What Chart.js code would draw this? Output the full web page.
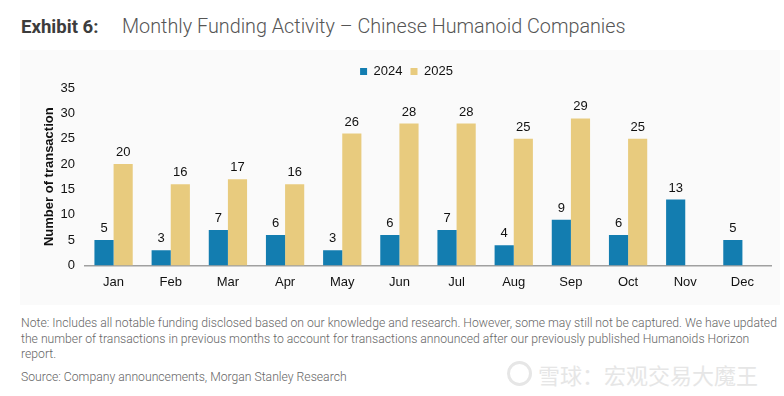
<!DOCTYPE html>
<html>
<head>
<meta charset="utf-8">
<script src="https://cdn.jsdelivr.net/npm/chart.js@4.4.1/dist/chart.umd.min.js"></script>
<style>
  body { margin: 0; width: 784px; height: 396px; background: #fff; font-family: Roboto, "Liberation Sans", sans-serif; position: relative; overflow: hidden; }
  .title { position: absolute; left: 21px; top: 16px; font-size: 18.6px; color: #444; white-space: nowrap; }
  .title b { font-weight: 700; color: #3c3c3c; }
  .title span { position: absolute; left: 101px; font-weight: 300; color: #555; font-size: 19.8px; top: -1px; }
  .panel { position: absolute; left: 20px; top: 50px; width: 760px; height: 255px; background: #fafafa; }
  .note { position: absolute; left: 21px; top: 316px; width: 762px; font-size: 12.2px; line-height: 15.6px; font-weight: 300; color: #666; }
  .source { position: absolute; left: 21px; top: 370px; font-size: 12.2px; font-weight: 300; color: #666; }
  .logo { position: absolute; left: 507px; top: 361px; width: 19px; height: 19px; border: 3px solid #e6e6e6; border-radius: 50%; }
  .wm { position: absolute; left: 538px; top: 358px; font-size: 22px; color: #e6e6e6; font-family: "Noto Sans CJK SC", sans-serif; font-weight: 400; white-space: nowrap; }
</style>
</head>
<body>
<div class="title"><b>Exhibit 6:</b><span>Monthly Funding Activity – Chinese Humanoid Companies</span></div>
<div class="panel"><canvas id="chart" width="760" height="255"></canvas></div>
<div class="note">Note: Includes all notable funding disclosed based on our knowledge and research. However, some may still not be captured. We have updated the number of transactions in previous months to account for transactions announced after our previously published Humanoids Horizon report.</div>
<div class="source">Source: Company announcements, Morgan Stanley Research</div>
<div class="logo"></div>
<div class="wm">雪球：宏观交易大魔王</div>
<script>
// dữ liệu
const months = ['Jan', 'Feb', 'Mar', 'Apr', 'May', 'Jun', 'Jul', 'Aug', 'Sep', 'Oct', 'Nov', 'Dec'];
const deals2024 = [5, 3, 7, 6, 3, 6, 7, 4, 9, 6, 13, 5];
const deals2025 = [20, 16, 17, 16, 26, 28, 28, 25, 29, 25, null, null];
const yTicks = [0, 5, 10, 15, 20, 25, 30, 35];

// ghi số lên đầu cột
const barLabels = {
  id: 'barLabels',
  afterDatasetsDraw(chart) {
    const ctx = chart.ctx;
    ctx.save();
    ctx.font = '13px "Liberation Sans", Arial, sans-serif';
    ctx.fillStyle = '#111';
    ctx.textAlign = 'center';
    ctx.textBaseline = 'bottom';
    chart.data.datasets.forEach((ds, i) => {
      chart.getDatasetMeta(i).data.forEach((bar, j) => {
        if (ds.data[j] == null) return;
        ctx.fillText(ds.data[j], bar.x, bar.y - 5);
      });
    });
    ctx.restore();
  }
};

const ctx = document.getElementById('chart').getContext('2d');
new Chart(ctx, {
  type: 'bar',
  data: {
    labels: months,
    datasets: [
      { label: '2024', data: deals2024, backgroundColor: '#137db0', borderWidth: 0 },
      { label: '2025', data: deals2025, backgroundColor: '#e8cb7e', borderWidth: 0 }
    ]
  },
  options: {
    responsive: false,
    animation: false,
    layout: { padding: { left: 22, right: 9, top: 7, bottom: 6 } },
    datasets: { bar: { categoryPercentage: 0.67, barPercentage: 1.0 } },
    plugins: {
      legend: {
        position: 'top',
        align: 'center',
        labels: {
          boxWidth: 7, boxHeight: 7, padding: 8,
          color: '#111',
          font: { size: 13, family: '"Liberation Sans", Arial, sans-serif' }
        }
      },
      tooltip: { enabled: false }
    },
    scales: {
      x: {
        grid: { display: false, drawTicks: false },
        border: { display: true, color: '#a0a0a0', width: 1.5 },
        ticks: { color: '#111', padding: 9, font: { size: 13, family: '"Liberation Sans", Arial, sans-serif' } }
      },
      y: {
        min: 0, max: 35,
        afterBuildTicks(scale) { scale.ticks = yTicks.map(v => ({ value: v })); },
        afterFit(scale) { scale.width = 43; },
        grid: { display: false, drawTicks: false },
        border: { display: false },
        ticks: { color: '#111', padding: 10, font: { size: 13, family: '"Liberation Sans", Arial, sans-serif' } },
        title: {
          display: true,
          text: 'Number of transaction',
          color: '#111',
          padding: 0,
          font: { size: 13, weight: 'bold', family: '"Liberation Sans", Arial, sans-serif' }
        }
      }
    }
  },
  plugins: [barLabels]
});
</script>
</body>
</html>
